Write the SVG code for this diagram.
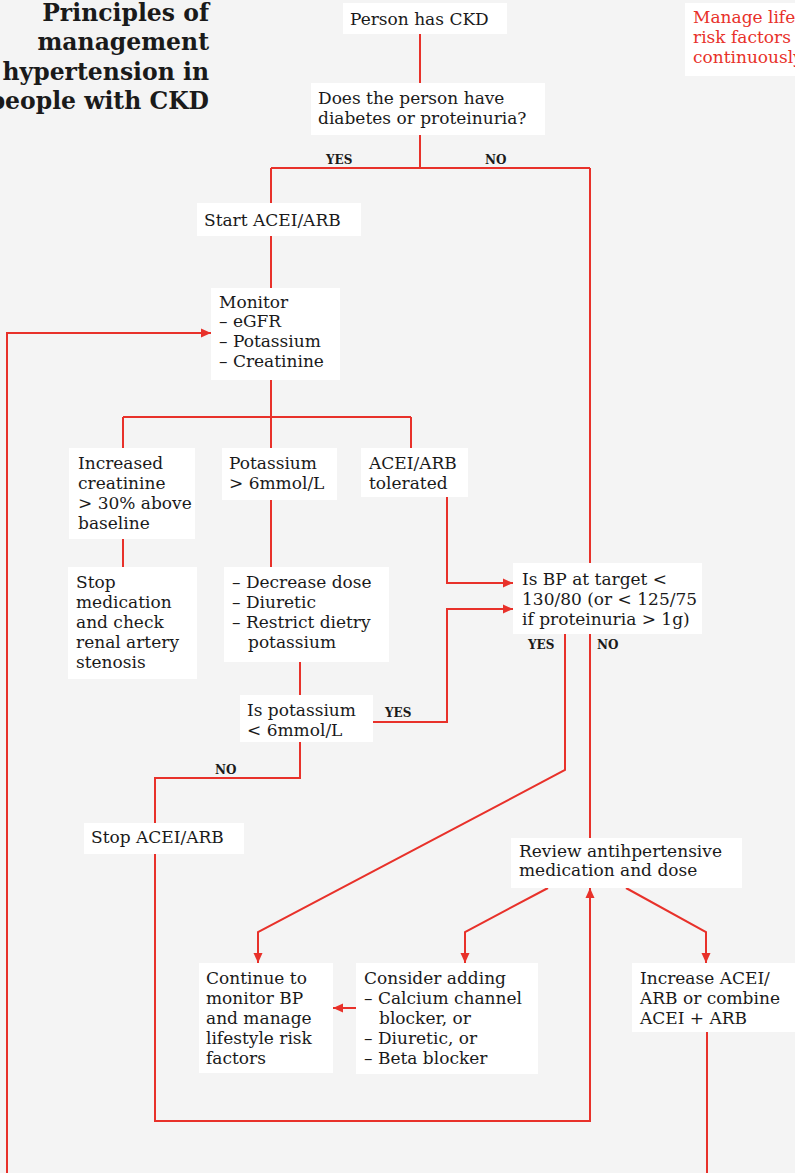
<svg xmlns="http://www.w3.org/2000/svg" width="795" height="1173" viewBox="0 0 795 1173">
<defs>
<style>
.bg{fill:#f4f4f4}
.box{fill:#ffffff}
.t{font-family:"DejaVu Serif","Liberation Serif",serif;font-size:17px;fill:#1a1a1a}
.r{fill:#e8312a}
.title{font-family:"DejaVu Serif","Liberation Serif",serif;font-size:23.5px;font-weight:bold;fill:#1a1a1a;text-anchor:end}
.lbl{font-family:"DejaVu Serif","Liberation Serif",serif;font-size:12px;font-weight:bold;fill:#1a1a1a}
.c path{fill:none;stroke:#e8312a;stroke-width:2}
</style>
<marker id="ah" markerUnits="userSpaceOnUse" markerWidth="10" markerHeight="10" refX="10" refY="5" orient="auto">
<path d="M0,0.5 L10,5 L0,9.5 z" fill="#e8312a"/>
</marker>
</defs>
<rect class="bg" x="0" y="0" width="795" height="1173"/>

<g id="title">
<text class="title"><tspan x="209" y="21">Principles of</tspan><tspan x="209" y="50">management</tspan><tspan x="209" y="80">hypertension in</tspan><tspan x="209" y="109">people with CKD</tspan></text>
</g>

<g class="c" id="connectors">
<path d="M420,34 V83"/>
<path d="M420,135 V168"/>
<path d="M271,168 H590"/>
<path d="M271,168 V203"/>
<path d="M590,168 V563"/>
<path d="M271,236 V288"/>
<path d="M271,380 V417"/>
<path d="M123,417 H411"/>
<path d="M123,417 V448"/>
<path d="M271,417 V448"/>
<path d="M411,417 V448"/>
<path d="M123,539 V567"/>
<path d="M271,500 V567"/>
<path d="M447,497 V583 H513" marker-end="url(#ah)"/>
<path d="M300,662 V695"/>
<path d="M373,722 H447 V609 H513" marker-end="url(#ah)"/>
<path d="M300,742 V778 H155 V823"/>
<path d="M155,854 V1121 H590 V888" marker-end="url(#ah)"/>
<path d="M565,634 V770 L258,932 V963" marker-end="url(#ah)"/>
<path d="M590,634 V838"/>
<path d="M548,888 L465,932 V963" marker-end="url(#ah)"/>
<path d="M626,888 L706,932 V963" marker-end="url(#ah)"/>
<path d="M356,1008 H333" marker-end="url(#ah)"/>
<path d="M707,1032 V1173"/>
<path d="M7,1173 V333 H211" marker-end="url(#ah)"/>
</g>

<g id="labels">
<text class="lbl" x="326" y="164">YES</text>
<text class="lbl" x="485" y="164">NO</text>
<text class="lbl" x="528" y="649">YES</text>
<text class="lbl" x="597" y="649">NO</text>
<text class="lbl" x="385" y="717">YES</text>
<text class="lbl" x="215" y="774">NO</text>
</g>

<g id="manage">
<rect class="box" x="685" y="3" width="120" height="73"/>
<text class="t r"><tspan x="693" y="23">Manage lifestyle</tspan><tspan x="693" y="43">risk factors</tspan><tspan x="693" y="63">continuously</tspan></text>
</g>

<g id="n-ckd">
<rect class="box" x="343" y="3" width="164" height="31"/>
<text class="t" x="350" y="25">Person has CKD</text>
</g>

<g id="n-diabetes">
<rect class="box" x="311" y="83" width="234" height="52"/>
<text class="t"><tspan x="318" y="104">Does the person have</tspan><tspan x="318" y="124">diabetes or proteinuria?</tspan></text>
</g>

<g id="n-start">
<rect class="box" x="197" y="203" width="164" height="33"/>
<text class="t" x="204" y="226">Start ACEI/ARB</text>
</g>

<g id="n-monitor">
<rect class="box" x="211" y="288" width="129" height="92"/>
<text class="t"><tspan x="219" y="308">Monitor</tspan><tspan x="219" y="327">– eGFR</tspan><tspan x="219" y="347">– Potassium</tspan><tspan x="219" y="367">– Creatinine</tspan></text>
</g>

<g id="n-creat">
<rect class="box" x="69" y="448" width="126" height="91"/>
<text class="t"><tspan x="78" y="469">Increased</tspan><tspan x="78" y="489">creatinine</tspan><tspan x="78" y="509">&gt; 30% above</tspan><tspan x="78" y="529">baseline</tspan></text>
</g>

<g id="n-potassium">
<rect class="box" x="222" y="448" width="115" height="52"/>
<text class="t"><tspan x="229" y="469">Potassium</tspan><tspan x="229" y="489">&gt; 6mmol/L</tspan></text>
</g>

<g id="n-tolerated">
<rect class="box" x="361" y="448" width="107" height="49"/>
<text class="t"><tspan x="369" y="469">ACEI/ARB</tspan><tspan x="369" y="489">tolerated</tspan></text>
</g>

<g id="n-stopmed">
<rect class="box" x="68" y="567" width="129" height="112"/>
<text class="t"><tspan x="76" y="588">Stop</tspan><tspan x="76" y="608">medication</tspan><tspan x="76" y="628">and check</tspan><tspan x="76" y="648">renal artery</tspan><tspan x="76" y="668">stenosis</tspan></text>
</g>

<g id="n-decrease">
<rect class="box" x="224" y="567" width="165" height="95"/>
<text class="t"><tspan x="232" y="588">– Decrease dose</tspan><tspan x="232" y="608">– Diuretic</tspan><tspan x="232" y="628">– Restrict dietry</tspan><tspan x="248" y="648">potassium</tspan></text>
</g>

<g id="n-bp">
<rect class="box" x="513" y="563" width="189" height="71"/>
<text class="t"><tspan x="522" y="585">Is BP at target &lt;</tspan><tspan x="522" y="605">130/80 (or &lt; 125/75</tspan><tspan x="522" y="625">if proteinuria &gt; 1g)</tspan></text>
</g>

<g id="n-ispot">
<rect class="box" x="240" y="695" width="133" height="47"/>
<text class="t"><tspan x="247" y="716">Is potassium</tspan><tspan x="247" y="736">&lt; 6mmol/L</tspan></text>
</g>

<g id="n-stopacei">
<rect class="box" x="84" y="823" width="160" height="31"/>
<text class="t" x="91" y="843">Stop ACEI/ARB</text>
</g>

<g id="n-review">
<rect class="box" x="511" y="838" width="231" height="50"/>
<text class="t"><tspan x="519" y="857">Review antihpertensive</tspan><tspan x="519" y="876">medication and dose</tspan></text>
</g>

<g id="n-continue">
<rect class="box" x="199" y="963" width="134" height="110"/>
<text class="t"><tspan x="206" y="984">Continue to</tspan><tspan x="206" y="1004">monitor BP</tspan><tspan x="206" y="1024">and manage</tspan><tspan x="206" y="1044">lifestyle risk</tspan><tspan x="206" y="1064">factors</tspan></text>
</g>

<g id="n-consider">
<rect class="box" x="356" y="963" width="182" height="111"/>
<text class="t"><tspan x="364" y="984">Consider adding</tspan><tspan x="364" y="1004">– Calcium channel</tspan><tspan x="379" y="1024">blocker, or</tspan><tspan x="364" y="1044">– Diuretic, or</tspan><tspan x="364" y="1064">– Beta blocker</tspan></text>
</g>

<g id="n-increase">
<rect class="box" x="632" y="963" width="175" height="69"/>
<text class="t"><tspan x="640" y="984">Increase ACEI/</tspan><tspan x="640" y="1004">ARB or combine</tspan><tspan x="640" y="1024">ACEI + ARB</tspan></text>
</g>
</svg>
